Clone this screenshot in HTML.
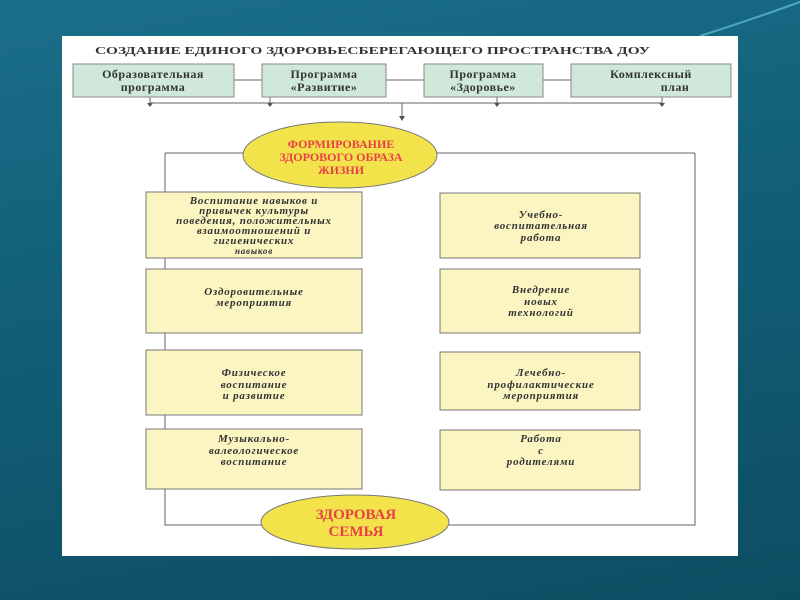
<!DOCTYPE html>
<html><head><meta charset="utf-8"><style>
body{margin:0;width:800px;height:600px;overflow:hidden;background:linear-gradient(170deg,#1b6f8a 0%,#126079 40%,#0d4d62 100%);font-family:"Liberation Serif",serif;}
</style></head><body>
<svg width="800" height="600" style="position:absolute;left:0;top:0">
<path d="M700 36 Q750 20 800 2" stroke="#6fd4e0" stroke-width="2" fill="none" opacity="0.6"/>
<rect x="62" y="36" width="676" height="520" fill="#fff"/>
<text x="95" y="54" font-size="11" font-weight="bold" fill="#333" textLength="555" lengthAdjust="spacingAndGlyphs">СОЗДАНИЕ ЕДИНОГО ЗДОРОВЬЕСБЕРЕГАЮЩЕГО ПРОСТРАНСТВА ДОУ</text>
<g stroke="#666" fill="none" stroke-width="1">
<line x1="234" y1="80" x2="262" y2="80"/><line x1="386" y1="80" x2="424" y2="80"/><line x1="543" y1="80" x2="571" y2="80"/>
<line x1="150" y1="103" x2="662" y2="103"/>
<line x1="150" y1="97" x2="150" y2="103"/><line x1="270" y1="97" x2="270" y2="103"/><line x1="497" y1="97" x2="497" y2="103"/><line x1="662" y1="97" x2="662" y2="103"/>
<line x1="402" y1="103" x2="402" y2="118"/>
<polyline points="165,153 165,525 695,525 695,153"/>
<line x1="165" y1="153" x2="245" y2="153"/><line x1="435" y1="153" x2="695" y2="153"/>
</g>
<g fill="#555"><path d="M147 103h6l-3 4z"/><path d="M267 103h6l-3 4z"/><path d="M494 103h6l-3 4z"/><path d="M659 103h6l-3 4z"/><path d="M399 116h6l-3 5z"/></g>
<g fill="#cfe8da" stroke="#888">
<rect x="73" y="64" width="161" height="33"/><rect x="262" y="64" width="124" height="33"/><rect x="424" y="64" width="119" height="33"/><rect x="571" y="64" width="160" height="33"/>
</g>
<g font-size="12" font-weight="bold" fill="#333" text-anchor="middle" letter-spacing="0.5">
<text x="153" y="78">Образовательная</text><text x="153" y="91">программа</text>
<text x="324" y="78">Программа</text><text x="324" y="91">«Развитие»</text>
<text x="483" y="78">Программа</text><text x="483" y="91">«Здоровье»</text>
<text x="651" y="78">Комплексный</text><text x="675" y="91">план</text>
</g>
<ellipse cx="340" cy="155" rx="97" ry="33" fill="#f3e34a" stroke="#777"/>
<g font-size="12" font-weight="bold" fill="#e8404a" text-anchor="middle">
<text x="341" y="148">ФОРМИРОВАНИЕ</text><text x="341" y="161">ЗДОРОВОГО ОБРАЗА</text><text x="341" y="174">ЖИЗНИ</text>
</g>
<g fill="#fbf5c2" stroke="#777">
<rect x="146" y="192" width="216" height="66"/><rect x="146" y="269" width="216" height="64"/><rect x="146" y="350" width="216" height="65"/><rect x="146" y="429" width="216" height="60"/>
<rect x="440" y="193" width="200" height="65"/><rect x="440" y="269" width="200" height="64"/><rect x="440" y="352" width="200" height="58"/><rect x="440" y="430" width="200" height="60"/>
</g>
<g font-size="11" font-weight="bold" font-style="italic" fill="#333" text-anchor="middle" letter-spacing="0.8">
<text x="254" y="204">Воспитание навыков и</text><text x="254" y="214">привычек культуры</text><text x="254" y="224">поведения, положительных</text><text x="254" y="234">взаимоотношений и</text><text x="254" y="244">гигиенических</text><text x="254" y="254" font-size="9">навыков</text>
<text x="254" y="295">Оздоровительные</text><text x="254" y="306">мероприятия</text>
<text x="254" y="376">Физическое</text><text x="254" y="388">воспитание</text><text x="254" y="399">и развитие</text>
<text x="254" y="442">Музыкально-</text><text x="254" y="454">валеологическое</text><text x="254" y="465">воспитание</text>
<text x="541" y="218">Учебно-</text><text x="541" y="229">воспитательная</text><text x="541" y="241">работа</text>
<text x="541" y="293">Внедрение</text><text x="541" y="305">новых</text><text x="541" y="316">технологий</text>
<text x="541" y="376">Лечебно-</text><text x="541" y="388">профилактические</text><text x="541" y="399">мероприятия</text>
<text x="541" y="442">Работа</text><text x="541" y="454">с</text><text x="541" y="465">родителями</text>
</g>
<ellipse cx="355" cy="522" rx="94" ry="27" fill="#f3e34a" stroke="#777"/>
<g font-size="15" font-weight="bold" fill="#e8404a" text-anchor="middle">
<text x="356" y="519">ЗДОРОВАЯ</text><text x="356" y="536">СЕМЬЯ</text>
</g>
</svg>
</body></html>
